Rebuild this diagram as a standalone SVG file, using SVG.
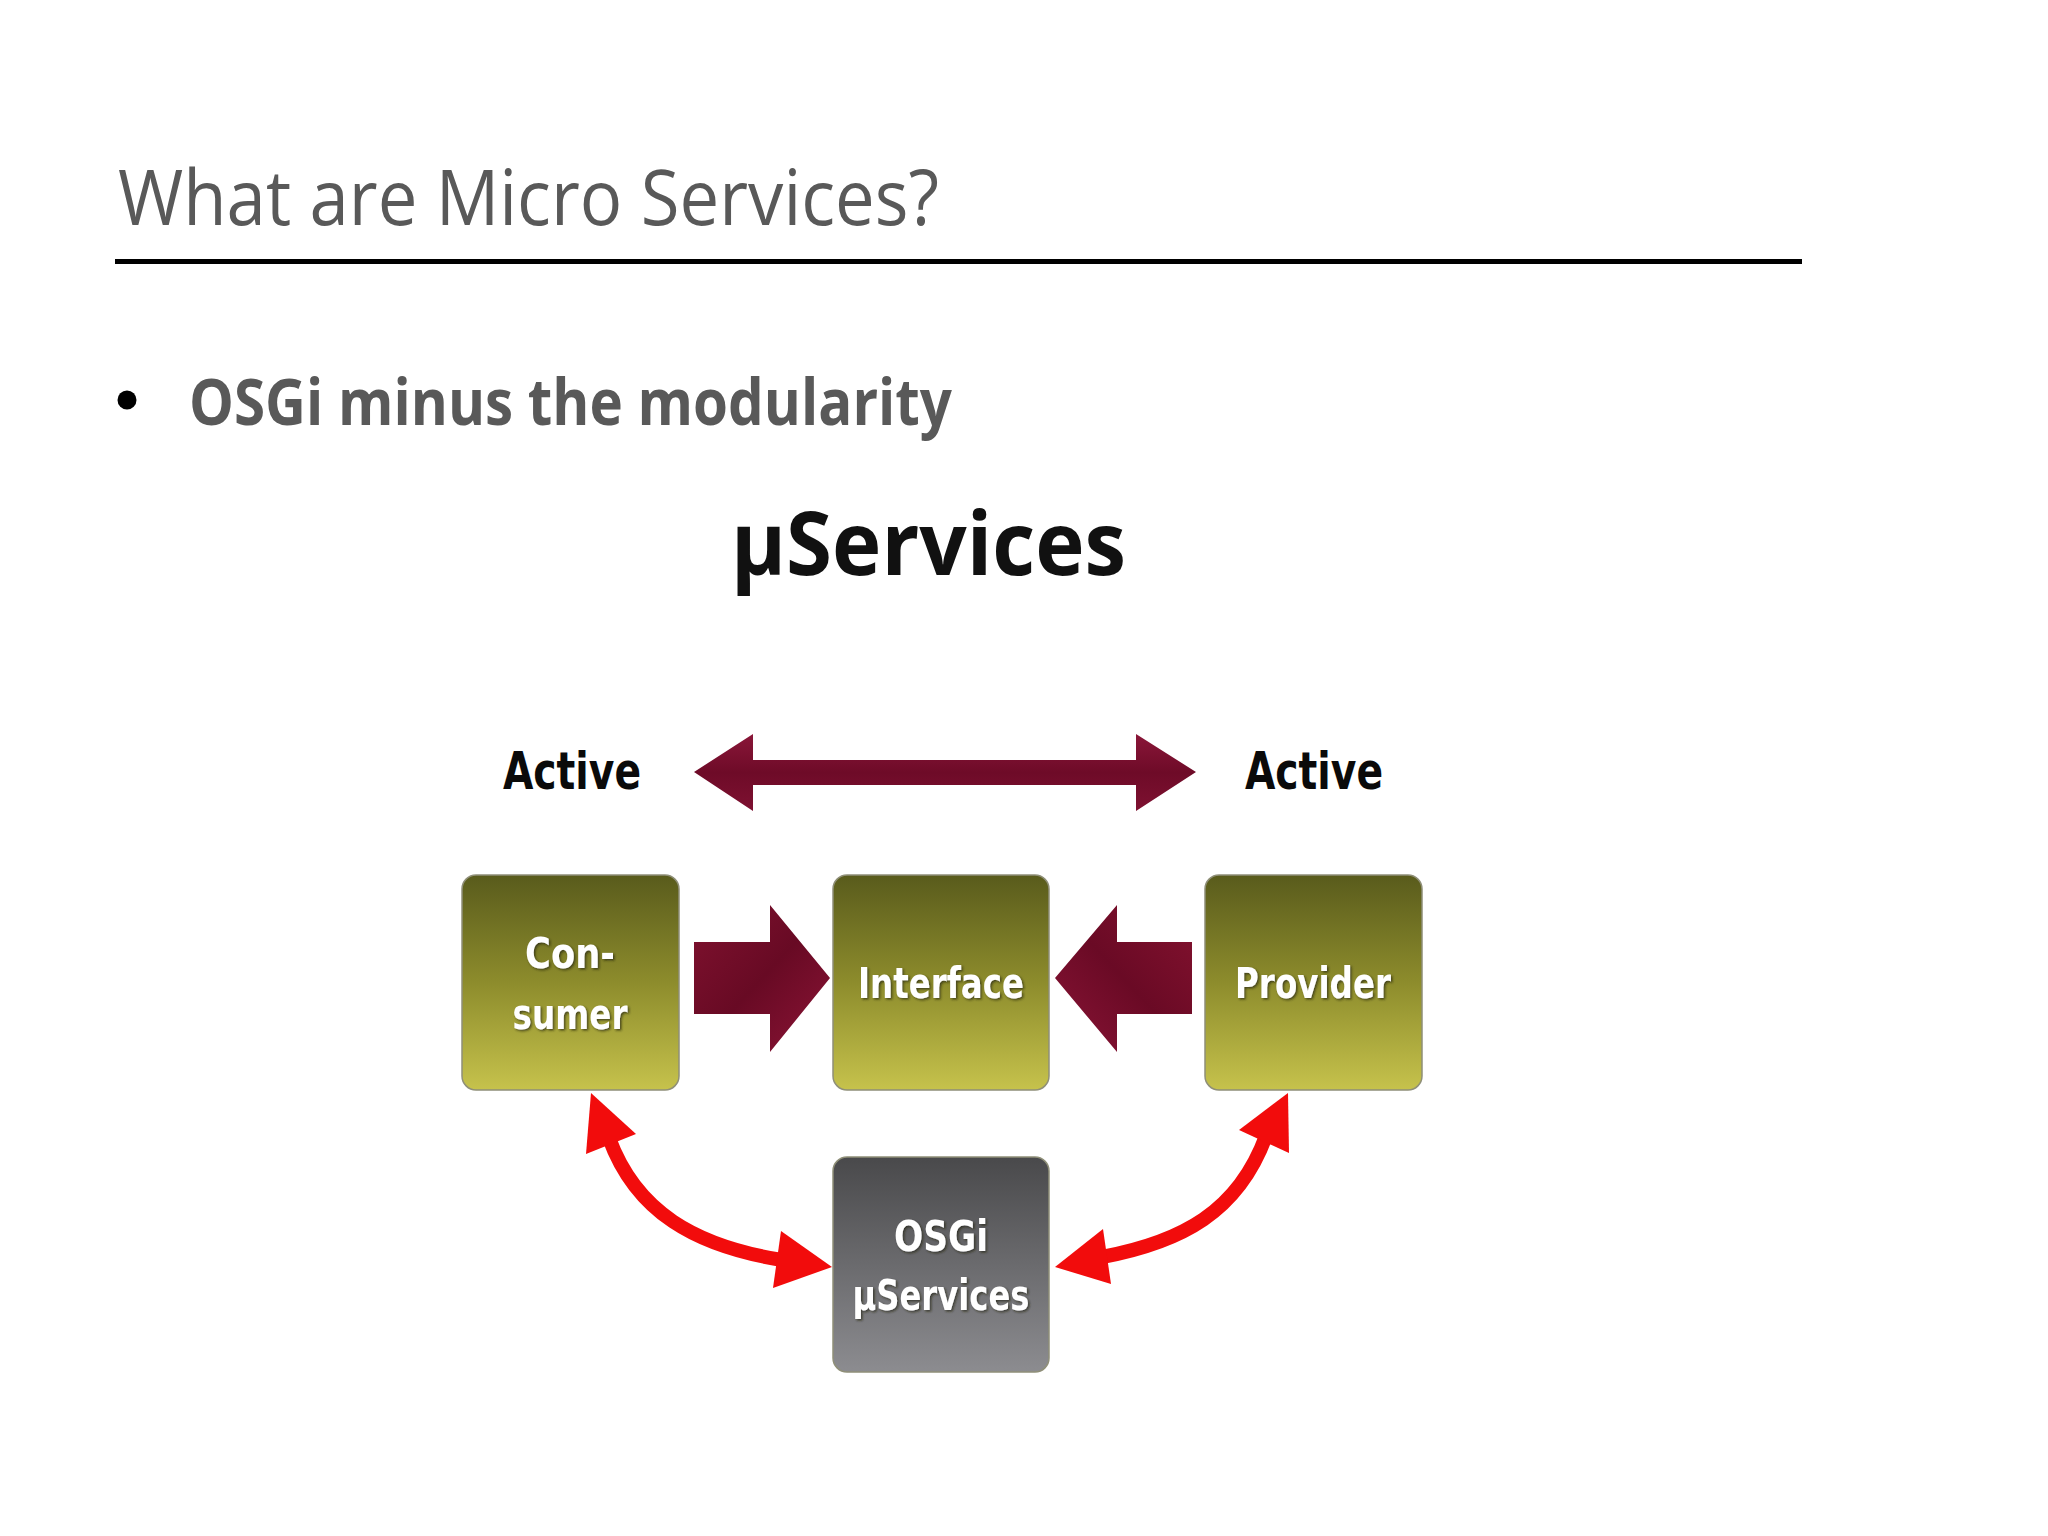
<svg xmlns="http://www.w3.org/2000/svg" width="2048" height="1536" viewBox="0 0 2048 1536">
  <style>
    .title { font-family: "Open Sans", "Liberation Sans", sans-serif; font-size: 76px; fill: #595959; }
    .bullet { font-family: "Open Sans", "Liberation Sans", sans-serif; font-size: 64px; font-weight: bold; fill: #595959; }
    .head { font-family: "Open Sans", "Liberation Sans", sans-serif; font-size: 88px; font-weight: bold; fill: #111111; }
    .active { font-family: "DejaVu Sans", "Liberation Sans", sans-serif; font-stretch: condensed; font-size: 52px; font-weight: bold; fill: #0a0a0a; }
    .lbl { font-family: "DejaVu Sans", "Liberation Sans", sans-serif; font-stretch: condensed; font-size: 42px; font-weight: bold; fill: #ffffff; text-anchor: middle; }
    .box { stroke: #8f8f78; stroke-width: 1.5; }
    .curve { fill: none; stroke: #f20c0c; stroke-width: 14; }
    .redhead { fill: #f20c0c; }
  </style>
  <defs>
    <linearGradient id="olive" x1="0" y1="0" x2="0" y2="1">
      <stop offset="0" stop-color="#595b1c"/>
      <stop offset="0.5" stop-color="#8d8c2c"/>
      <stop offset="1" stop-color="#c6c24c"/>
    </linearGradient>
    <linearGradient id="gray" x1="0" y1="0" x2="0" y2="1">
      <stop offset="0" stop-color="#49494b"/>
      <stop offset="1" stop-color="#8c8c90"/>
    </linearGradient>
    <linearGradient id="maroonH" x1="0" y1="0" x2="0" y2="1">
      <stop offset="0" stop-color="#8a1638"/>
      <stop offset="0.5" stop-color="#6e0b28"/>
      <stop offset="1" stop-color="#7e1131"/>
    </linearGradient>
    <linearGradient id="maroonR" x1="0" y1="0" x2="1" y2="1">
      <stop offset="0" stop-color="#80122f"/>
      <stop offset="0.5" stop-color="#680a24"/>
      <stop offset="1" stop-color="#8c1436"/>
    </linearGradient>
    <linearGradient id="maroonL" x1="1" y1="0" x2="0" y2="1">
      <stop offset="0" stop-color="#84122f"/>
      <stop offset="0.5" stop-color="#6a0a25"/>
      <stop offset="1" stop-color="#8a1436"/>
    </linearGradient>
    <filter id="ts" x="-10%" y="-20%" width="120%" height="140%">
      <feDropShadow dx="1.5" dy="1.5" stdDeviation="1" flood-color="#202010" flood-opacity="0.7"/>
    </filter>
  </defs>

  <rect x="0" y="0" width="2048" height="1536" fill="#ffffff"/>

  <!-- Title -->
  <g id="title">
    <text class="title" x="118" y="225" textLength="821" lengthAdjust="spacingAndGlyphs">What are Micro Services?</text>
    <rect x="115" y="259" width="1687" height="5" fill="#000000"/>
  </g>

  <g id="bullet">
    <circle cx="127" cy="400" r="9.5" fill="#000000"/>
    <text class="bullet" x="189" y="425" textLength="763" lengthAdjust="spacingAndGlyphs">OSGi minus the modularity</text>
  </g>

  <g id="heading">
    <text class="head" x="731" y="575" textLength="395" lengthAdjust="spacingAndGlyphs">µServices</text>
  </g>

  <g id="active-left">
    <text class="active" x="503" y="789" textLength="138" lengthAdjust="spacingAndGlyphs">Active</text>
  </g>
  <g id="active-right">
    <text class="active" x="1245" y="789" textLength="138" lengthAdjust="spacingAndGlyphs">Active</text>
  </g>

  <!-- Connectors -->
  <g id="connectors">
    <polygon points="694,772 753,734 753,760 1136,760 1136,734 1196,772 1136,811 1136,785 753,785 753,811" fill="url(#maroonH)"/>
    <polygon points="694,942 770,942 770,905 830,978 770,1052 770,1014 694,1014" fill="url(#maroonR)"/>
    <polygon points="1192,942 1117,942 1117,905 1055,978 1117,1052 1117,1014 1192,1014" fill="url(#maroonL)"/>

    <path class="curve" d="M609,1138 C636,1212 695,1246 782,1260"/>
    <polygon class="redhead" points="591,1093 636,1134 586,1154"/>
    <polygon class="redhead" points="832,1267 781,1231 773,1288"/>

    <path class="curve" d="M1266,1136 C1238,1212 1182,1242 1102,1257"/>
    <polygon class="redhead" points="1288,1093 1289,1153 1239,1130"/>
    <polygon class="redhead" points="1055,1267 1103,1229 1111,1284"/>
  </g>

  <!-- Nodes -->
  <g id="consumer">
    <rect class="box" x="462" y="875" width="217" height="215" rx="14" fill="url(#olive)"/>
    <text class="lbl" x="570" y="968" textLength="90" lengthAdjust="spacingAndGlyphs" filter="url(#ts)">Con-</text>
    <text class="lbl" x="570" y="1029" textLength="115" lengthAdjust="spacingAndGlyphs" filter="url(#ts)">sumer</text>
  </g>
  <g id="interface">
    <rect class="box" x="833" y="875" width="216" height="215" rx="14" fill="url(#olive)"/>
    <text class="lbl" x="941" y="998" textLength="166" lengthAdjust="spacingAndGlyphs" filter="url(#ts)">Interface</text>
  </g>
  <g id="provider">
    <rect class="box" x="1205" y="875" width="217" height="215" rx="14" fill="url(#olive)"/>
    <text class="lbl" x="1313" y="998" textLength="156" lengthAdjust="spacingAndGlyphs" filter="url(#ts)">Provider</text>
  </g>
  <g id="osgi">
    <rect class="box" x="833" y="1157" width="216" height="215" rx="14" fill="url(#gray)" stroke="#777777"/>
    <text class="lbl" x="941" y="1251" textLength="94" lengthAdjust="spacingAndGlyphs" filter="url(#ts)">OSGi</text>
    <text class="lbl" x="941" y="1310" textLength="177" lengthAdjust="spacingAndGlyphs" filter="url(#ts)">µServices</text>
  </g>
</svg>
